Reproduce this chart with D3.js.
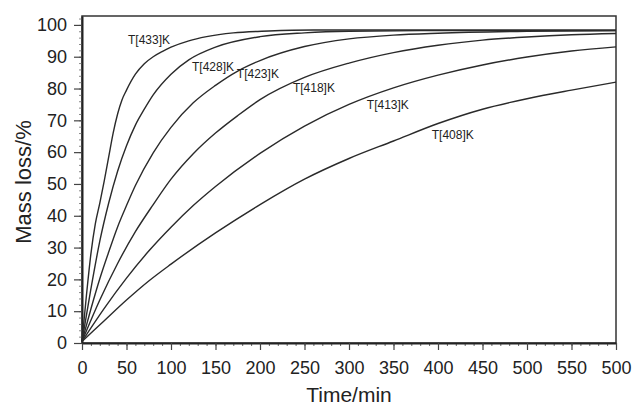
<!DOCTYPE html>
<html>
<head>
<meta charset="utf-8">
<script src="https://cdn.jsdelivr.net/npm/d3@7"></script>
<style>
  html, body { margin: 0; padding: 0; background: #fff; }
  svg { display: block; font-family: "Liberation Sans", Arial, Helvetica, sans-serif; }
</style>
</head>
<body>
<div id="chart"></div>
<script>
// tick values and labels (the last label is printed "500" in the original)
const timeTicks = [0, 50, 100, 150, 200, 250, 300, 350, 400, 450, 500, 550, 600];
const timeTickLabels = ['0', '50', '100', '150', '200', '250', '300', '350', '400', '450', '500', '550', '500'];
const massTicks = [0, 10, 20, 30, 40, 50, 60, 70, 80, 90, 100];

// isothermal curves, [time/min, mass loss/%]
const t433 = [[0, 0.5], [5, 15], [10, 28], [15, 37.5], [20, 44], [25, 51], [30, 58.5], [35, 66], [40, 72],
  [45, 76.5], [50, 79.5], [60, 84.5], [70, 87.8], [80, 90], [90, 91.6], [100, 93], [120, 95], [140, 96.3],
  [170, 97.5], [210, 98.1], [260, 98.4], [400, 98.4], [600, 98.4]];
const t428 = [[0, 0.5], [10, 17], [20, 32], [30, 44], [40, 54], [50, 62], [60, 68.5], [70, 73.5], [80, 78],
  [100, 84.5], [120, 89], [150, 93], [200, 96.3], [250, 97.5], [300, 98], [400, 98.2], [600, 98.2]];
const t423 = [[0, 0.5], [10, 10.7], [20, 20.2], [30, 28.6], [40, 36.5], [50, 43.2], [60, 49.5], [80, 59.8],
  [100, 67.8], [125, 75.5], [150, 81], [175, 85.5], [200, 88.8], [250, 93.2], [300, 95.6], [350, 96.8],
  [400, 97.4], [500, 98], [600, 98.2]];
const t418 = [[0, 0.5], [20, 13.5], [40, 25], [60, 35], [80, 43.5], [100, 51.5], [125, 59.5], [150, 66],
  [175, 71.5], [200, 76.5], [250, 83.5], [300, 88], [350, 91.3], [400, 93.6], [450, 95.2], [500, 96.2],
  [550, 96.9], [600, 97.3]];
const t413 = [[0, 0.5], [25, 10.9], [50, 20.4], [75, 28.9], [100, 36.4], [125, 43.2], [150, 49.2], [200, 59.6],
  [250, 68.2], [300, 75], [350, 80.2], [400, 84.2], [450, 87.4], [500, 89.9], [550, 91.8], [600, 93.1]];
const t408 = [[0, 0.5], [25, 7], [50, 13.5], [75, 19.5], [100, 24.8], [150, 34.6], [200, 43.5], [250, 51.5],
  [300, 58], [350, 63.5], [400, 69], [450, 73.5], [500, 76.8], [550, 79.5], [600, 82]];

const seriesNames = ['T[433]K', 'T[428]K', 'T[423]K', 'T[418]K', 'T[413]K', 'T[408]K'];
const seriesData = [t433, t428, t423, t418, t413, t408];
// label anchors [time, mass] (left edge, baseline)
const labelAt = [[51.7, 94.0], [123.6, 85.5], [174, 83.3], [237, 78.9], [320, 73.6], [393, 64.2]];

const width = 638, height = 405;
const svg = d3.select('#chart').append('svg')
  .attr('width', width)
  .attr('height', height);

const x = d3.scaleLinear().domain([0, 600]).range([82, 616]);
const y = d3.scaleLinear().domain([0, 102.8]).range([343, 16]);

// frame
svg.append('rect')
  .attr('x', x(0)).attr('y', y(102.8))
  .attr('width', x(600) - x(0)).attr('height', y(0) - y(102.8))
  .attr('fill', 'none').attr('stroke', '#333').attr('stroke-width', 1.5);

// minor ticks
svg.append('g')
  .attr('transform', `translate(0,${y(0)})`)
  .call(d3.axisBottom(x).tickValues(d3.range(0, 601, 10)).tickSize(3).tickFormat(''))
  .call(g => g.select('.domain').remove())
  .call(g => g.selectAll('line').attr('stroke', '#666'));
svg.append('g')
  .attr('transform', `translate(${x(0)},0)`)
  .call(d3.axisLeft(y).tickValues(d3.range(0, 103, 2)).tickSize(3).tickFormat(''))
  .call(g => g.select('.domain').remove())
  .call(g => g.selectAll('line').attr('stroke', '#888'));

// major axes
const xAxis = svg.append('g')
  .attr('transform', `translate(0,${y(0)})`)
  .call(d3.axisBottom(x).tickValues(timeTicks).tickSize(7).tickSizeOuter(0).tickPadding(11)
    .tickFormat((d, i) => timeTickLabels[i]));
xAxis.select('.domain').attr('stroke', '#222').attr('stroke-width', 2);
xAxis.selectAll('line').attr('stroke', '#444').attr('stroke-width', 1.2);
xAxis.selectAll('text').attr('font-size', 18).attr('fill', '#222').attr('font-family', null);

const yAxis = svg.append('g')
  .attr('transform', `translate(${x(0)},0)`)
  .call(d3.axisLeft(y).tickValues(massTicks).tickSize(8).tickSizeOuter(0).tickPadding(7));
yAxis.select('.domain').attr('stroke', '#222').attr('stroke-width', 2);
yAxis.selectAll('line').attr('stroke', '#444').attr('stroke-width', 1.2);
yAxis.selectAll('text').attr('font-size', 18).attr('fill', '#222').attr('font-family', null);

// curves
const line = d3.line()
  .x(d => x(d[0]))
  .y(d => y(d[1]))
  .curve(d3.curveMonotoneX);

svg.append('g')
  .selectAll('path')
  .data(seriesData)
  .join('path')
  .attr('d', line)
  .attr('fill', 'none')
  .attr('stroke', '#2a2a2a')
  .attr('stroke-width', 1.4);

// curve labels
svg.append('g')
  .selectAll('text')
  .data(seriesNames)
  .join('text')
  .attr('x', (d, i) => x(labelAt[i][0]))
  .attr('y', (d, i) => y(labelAt[i][1]))
  .attr('font-size', 12)
  .attr('fill', '#222')
  .text(d => d);

// axis titles
svg.append('text')
  .attr('x', (x(0) + x(600)) / 2)
  .attr('y', 402)
  .attr('text-anchor', 'middle')
  .attr('font-size', 21)
  .attr('fill', '#222')
  .text('Time/min');

svg.append('text')
  .attr('transform', `translate(31,182) rotate(-90)`)
  .attr('text-anchor', 'middle')
  .attr('font-size', 22)
  .attr('fill', '#222')
  .text('Mass loss/%');
</script>
</body>
</html>
